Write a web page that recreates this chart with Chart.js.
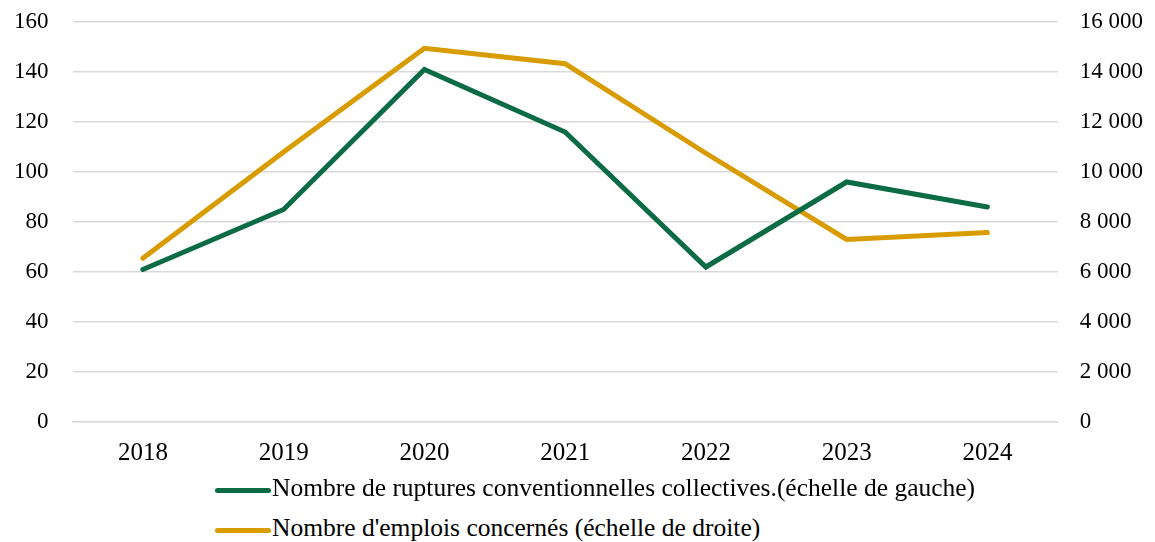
<!DOCTYPE html>
<html>
<head>
<meta charset="utf-8">
<script src="https://cdn.jsdelivr.net/npm/chart.js@4/dist/chart.umd.min.js"></script>
<style>
  html, body { margin: 0; padding: 0; background: #ffffff; }
  #wrap { position: relative; width: 1155px; height: 542px; }
  #box { position: absolute; left: 0; top: 0; width: 1155px; height: 484px; }
  .legend { position: absolute; left: 215px; font-family: 'Liberation Serif', serif; font-size: 25.5px; line-height: 30px; color: #000; white-space: nowrap; }
  .legend span.sw { display: inline-block; width: 56px; height: 5px; border-radius: 3px; vertical-align: middle; margin-right: 1px; }
</style>
</head>
<body>
<div id="wrap">
  <div id="box"><canvas id="chart"></canvas></div>
  <div class="legend" id="leg1" style="top:473px"><span class="sw" style="background:#0b6b45"></span>Nombre de ruptures conventionnelles collectives.(échelle de gauche)</div>
  <div class="legend" id="leg2" style="top:513px"><span class="sw" style="background:#d89c00"></span>Nombre d'emplois concernés (échelle de droite)</div>
</div>
<script>
// values
const years = ['2018', '2019', '2020', '2021', '2022', '2023', '2024'];
const ruptures = [61, 85, 141, 116, 62, 96, 86];
const emplois = [6550, 10800, 14950, 14330, 10750, 7300, 7580];

const green = '#0b6b45';
const gold = '#d89c00';
const yFont = { family: 'Liberation Serif', size: 23 };
const xFont = { family: 'Liberation Serif', size: 25 };

// 16000 -> "16 000"
const spaced = v => String(v).replace(/\B(?=(\d{3})+(?!\d))/g, ' ');

// chart.js adds tick padding to the overflow on the other side, drop it
const noVPad = scale => { scale.paddingTop = 0; scale.paddingBottom = 0; };

new Chart(document.getElementById('chart'), {
  type: 'line',
  data: {
    labels: years,
    datasets: [
      {
        label: 'Nombre de ruptures conventionnelles collectives.(échelle de gauche)',
        data: ruptures,
        borderColor: green,
        borderWidth: 5,
        pointRadius: 0,
        borderCapStyle: 'round',
        tension: 0,
        yAxisID: 'y',
      },
      {
        label: "Nombre d'emplois concernés (échelle de droite)",
        data: emplois,
        borderColor: gold,
        borderWidth: 5,
        pointRadius: 0,
        borderCapStyle: 'round',
        tension: 0,
        yAxisID: 'y1',
      }
    ]
  },
  options: {
    responsive: true,
    maintainAspectRatio: false,
    animation: false,
    layout: { padding: { top: 22, left: -10, right: -10, bottom: 0 } },
    plugins: {
      legend: { display: false },
      tooltip: { enabled: false },
    },
    scales: {
      x: {
        offset: true,
        grid: { display: false, drawTicks: false },
        border: { display: true, color: '#d9d9d9', width: 1.5 },
        ticks: { color: '#000', font: xFont, padding: 16 },
      },
      y: {
        position: 'left',
        min: 0,
        max: 160,
        afterFit: noVPad,
        grid: { color: '#d9d9d9', lineWidth: 1.5, drawTicks: false },
        border: { display: false },
        ticks: { stepSize: 20, color: '#000', font: yFont, padding: 24 },
      },
      y1: {
        position: 'right',
        min: 0,
        max: 16000,
        afterFit: noVPad,
        grid: { display: false, drawTicks: false },
        border: { display: false },
        ticks: { stepSize: 2000, color: '#000', font: yFont, padding: 22, callback: v => spaced(v) },
      }
    }
  }
});
</script>
</body>
</html>
